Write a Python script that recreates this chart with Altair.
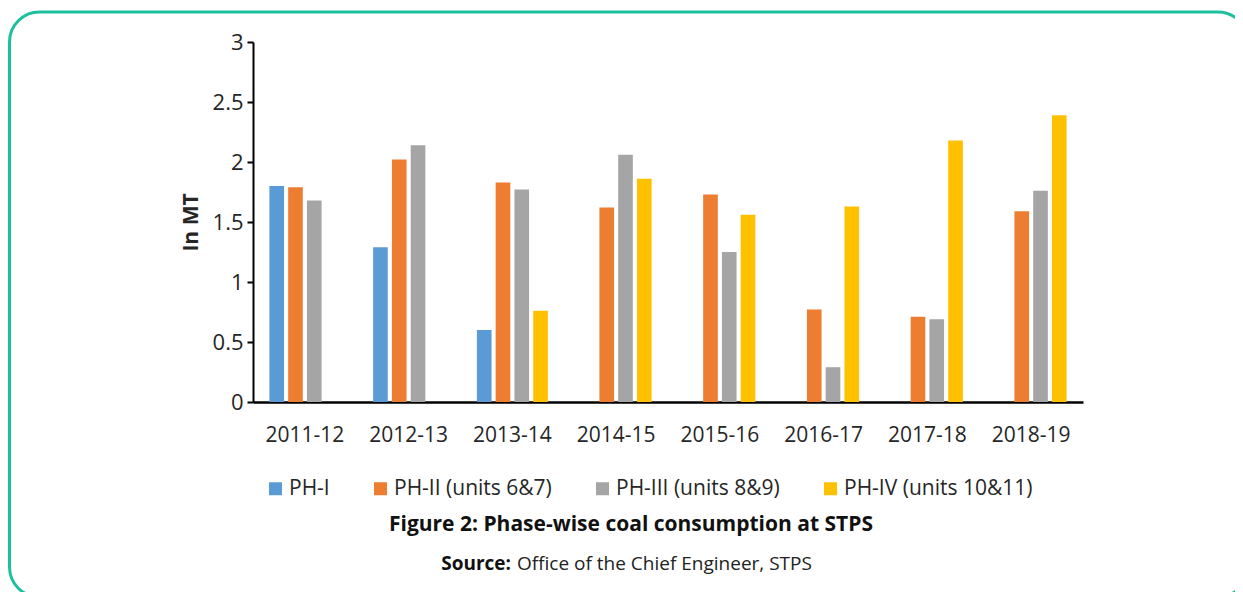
import altair as alt
import pandas as pd

years = ["2011-12", "2012-13", "2013-14", "2014-15", "2015-16", "2016-17", "2017-18", "2018-19"]
series = ["PH-I", "PH-II (units 6&7)", "PH-III (units 8&9)", "PH-IV (units 10&11)"]
ph1 = [1.80, 1.29, 0.60, None, None, None, None, None]
ph2 = [1.79, 2.02, 1.83, 1.62, 1.73, 0.77, 0.71, 1.59]
ph3 = [1.68, 2.14, 1.77, 2.06, 1.25, 0.29, 0.69, 1.76]
ph4 = [None, None, 0.76, 1.86, 1.56, 1.63, 2.18, 2.39]
colors = ["#5B9BD5", "#ED7D31", "#A5A5A5", "#FFC000"]
y_ticks = [0, 0.5, 1, 1.5, 2, 2.5, 3]

title_text = "Figure 2: Phase-wise coal consumption at STPS"
source_bold = "Source:"
source_text = "Office of the Chief Engineer, STPS"

rows = []
for s, vals in zip(series, [ph1, ph2, ph3, ph4]):
    for y, v in zip(years, vals):
        if v is not None:
            rows.append({"year": y, "phase": s, "value": v})
df = pd.DataFrame(rows)

FONT = "Open Sans"
TXT = "#262626"

bars = alt.Chart(df).mark_bar().encode(
    x=alt.X("year:N", sort=years, title=None,
            scale=alt.Scale(paddingInner=0.316, paddingOuter=0.158),
            axis=alt.Axis(labelAngle=0, ticks=False, tickSize=0, labelPadding=22,
                          labelFont=FONT, labelFontSize=21, labelColor=TXT,
                          domainColor="#000000", domainWidth=2.5)),
    xOffset=alt.XOffset("phase:N", sort=series,
                        scale=alt.Scale(domain=series, paddingInner=0.22, paddingOuter=0)),
    y=alt.Y("value:Q", title="In MT",
            scale=alt.Scale(domain=[0, 3], nice=False),
            axis=alt.Axis(values=y_ticks, format="~g", grid=False, tickSize=6,
                          tickColor="#000000", tickWidth=2, domainColor="#000000",
                          domainWidth=2, labelPadding=4, labelFont=FONT,
                          labelFontSize=22, labelColor=TXT, titleFont=FONT,
                          titleFontSize=21, titleFontWeight="bold", titleColor=TXT,
                          titlePadding=11)),
    color=alt.Color("phase:N", sort=series,
                    scale=alt.Scale(domain=series, range=colors),
                    legend=alt.Legend(title=None, orient="none", direction="horizontal",
                                      legendX=12, legendY=436, symbolType="square",
                                      symbolSize=169, symbolStrokeWidth=0,
                                      labelOffset=3, columnPadding=40, labelLimit=0,
                                      labelFont=FONT, labelFontSize=21,
                                      labelColor=TXT)),
)

one = alt.Data(values=[{"a": 1}])

title_mark = alt.Chart(one).mark_text(
    text=title_text, font=FONT, fontSize=21, fontWeight="bold", color="#111111",
    align="center", baseline="alphabetic"
).encode(x=alt.value(378), y=alt.value(489))

src_b = alt.Chart(one).mark_text(
    text=source_bold, font=FONT, fontSize=19, fontWeight="bold", color="#111111",
    align="right", baseline="alphabetic"
).encode(x=alt.value(258), y=alt.value(528))

src_r = alt.Chart(one).mark_text(
    text=source_text, font=FONT, fontSize=19, color="#222222",
    align="left", baseline="alphabetic"
).encode(x=alt.value(264), y=alt.value(528))

frame = alt.Chart(one).mark_rect(
    filled=False, stroke="#1CC0A0", strokeWidth=3, cornerRadius=30
).encode(x=alt.value(-243.5), x2=alt.value(995), y=alt.value(-30), y2=alt.value(555))

chart = alt.layer(frame, bars, title_mark, src_b, src_r).properties(
    width=830, height=360,
    autosize=alt.AutoSizeParams(type="none"),
    padding={"left": 245, "top": 34, "right": 152, "bottom": 190},
).configure_view(stroke=None)

chart.save("out.html", embed_options={"renderer": "svg", "actions": False})
